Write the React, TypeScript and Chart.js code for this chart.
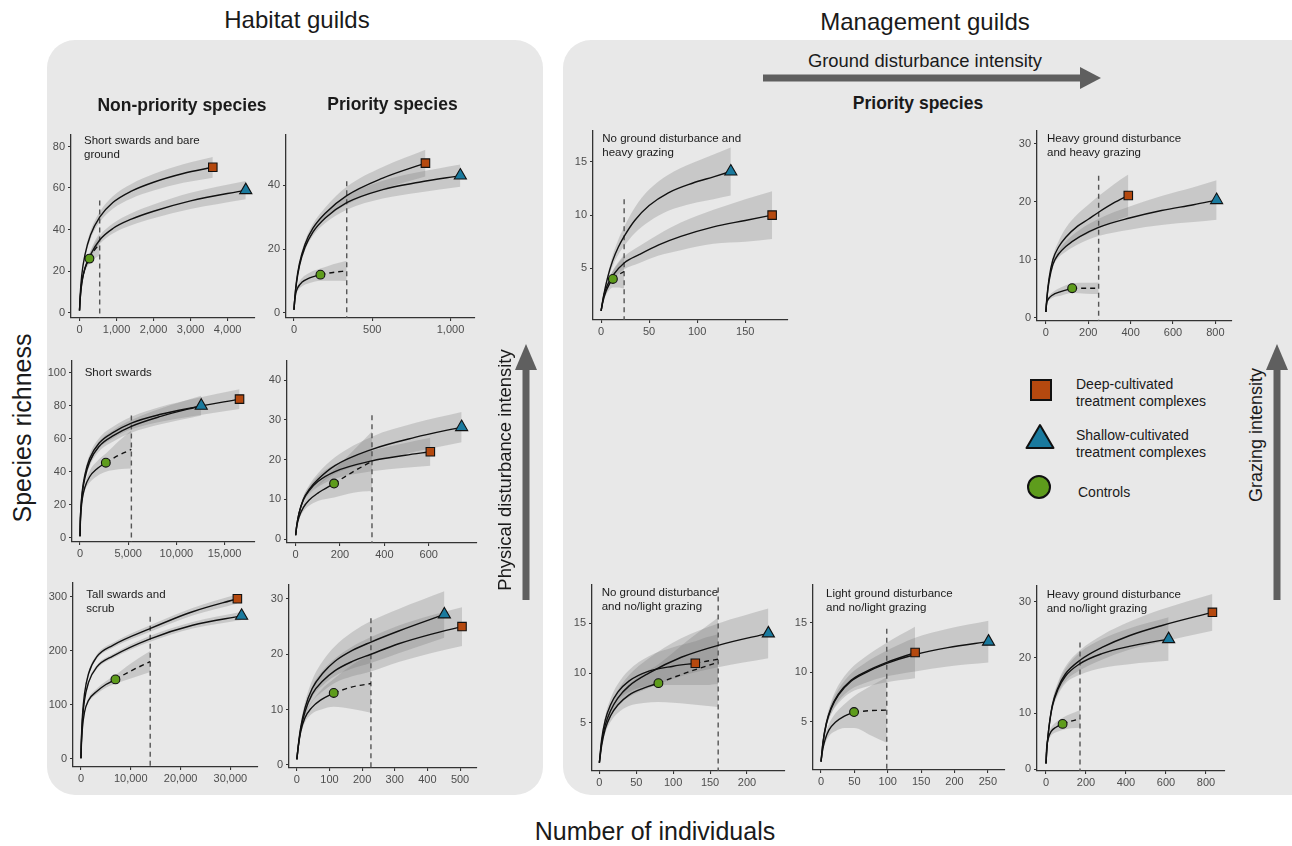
import React, { useEffect, useRef } from 'react';
import { Chart, registerables } from 'chart.js';
Chart.register(...registerables);

type Row = number[]; // [individuals, richness, half-width of 95% band]

// ---------- Habitat guilds: Short swards and bare ground ----------
const a1Deep: Row[] = [[0,1,0],[20,9,0.5],[60,18,1],[150,28,1.5],[300,37.5,2],[545,46,2.5],[900,53,3],[1400,58.5,3.5],[2000,62.8,4],[2800,67,4.5],[3600,70,5]];
const a1Shallow: Row[] = [[0,1,0],[20,7,0.4],[60,14,0.8],[150,21.5,1.2],[300,28,1.6],[545,35,2],[900,40.5,2.4],[1400,45,2.9],[2000,48.8,3.3],[3000,53.8,3.9],[4490,59,4.4]];
const a1Ctrl: Row[] = [[0,1,0],[15,6,0.4],[40,11.5,0.8],[80,16.5,1.2],[150,21.5,1.8],[268,26,2.5]];
const a1CtrlExt: Row[] = [[268,26,2.5],[400,30,4],[545,33,5.5]];
const a2Deep: Row[] = [[0,1,0],[5,4.5,0.3],[15,9.5,0.5],[35,15.5,0.8],[70,21.5,1],[120,26.5,1.3],[200,31.3,1.8],[337,36.8,2.8],[567,42.3,3.5],[840,47,4.2]];
const a2Shallow: Row[] = [[0,1,0],[5,4.3,0.3],[15,9,0.5],[35,14.8,0.7],[70,20.5,0.9],[120,25.3,1.2],[200,29.8,1.6],[337,34.6,2.2],[567,38.7,2.8],[800,41,3.2],[1063,43.1,3.5]];
const a2Ctrl: Row[] = [[0,1,0],[5,4,0.4],[12,6.2,0.7],[25,8,1],[50,9.6,1.3],[100,11,1.6],[169,12,1.9]];
const a2CtrlExt: Row[] = [[169,12,1.9],[250,12.7,2.6],[337,13.2,3.2]];

// ---------- Short swards ----------
const b1Deep: Row[] = [[0,1,0],[30,10,0.5],[100,19,1],[250,29,1.5],[500,38,2],[1000,48,2.5],[2000,57.5,3],[3500,64,3.5],[5330,69.5,3.8],[8370,74.8,4.5],[11680,78.8,5.2],[16550,84,6]];
const b1Shallow: Row[] = [[0,1,0],[30,9.5,0.5],[100,18,1],[250,27.5,1.5],[500,36,2],[1000,46,2.5],[2000,55.5,3],[3500,62,3.5],[5330,67.5,3.8],[8370,73.5,4.8],[12580,80,6]];
const b1Ctrl: Row[] = [[0,1,0],[30,8,0.5],[100,16,1],[250,24,1.5],[500,30.5,2],[1000,37,3.5],[1800,42,4.5],[2680,45.5,5.5]];
const b1CtrlExt: Row[] = [[2680,45.5,5.5],[4000,50,8.5],[5330,53.5,11.5]];
const b2Shallow: Row[] = [[0,1,0],[5,3.5,0.3],[15,6.5,0.5],[35,10,0.8],[62,12.6,1.1],[100,15,1.5],[177,18.5,2.1],[344,22.6,3.2],[537,25.6,3.6],[748,28.2,3.8]];
const b2Deep: Row[] = [[0,1,0],[5,3.5,0.3],[15,6.5,0.5],[35,10,0.8],[62,12.3,1],[100,14.5,1.4],[177,17,1.8],[344,19.7,2.6],[494,21.1,3.1],[607,22,3.5]];
const b2Ctrl: Row[] = [[0,1,0],[5,3.2,0.3],[15,5.5,0.6],[35,8,1],[60,9.8,1.4],[100,11.6,2],[173,14,3.5]];
const b2CtrlExt: Row[] = [[173,14,3.5],[260,17,5.3],[344,19.6,7.5]];

// ---------- Tall swards and scrub ----------
const c1Deep: Row[] = [[0,1,0],[50,25,0.8],[100,40,1],[300,80,2],[700,120,3],[1500,157,3.5],[3200,189,4],[6400,210,4.5],[13900,241,6],[22400,272,7],[31400,296,8.5]];
const c1Shallow: Row[] = [[0,1,0],[50,22,1],[100,36,1.5],[300,72,2.5],[700,108,3],[1500,141,3.5],[3200,170,3.8],[6400,190,4],[13900,222,5.5],[22400,247,6],[32250,264.5,7.5]];
const c1Ctrl: Row[] = [[0,1,0],[50,18,1],[100,30,1.5],[300,58,2.5],[700,86,3],[1500,108,4],[3200,125,5],[5000,137.5,6],[6920,147,8]];
const c1CtrlExt: Row[] = [[6920,147,8],[10000,162.5,14],[13900,180,19.5]];
const c2Shallow: Row[] = [[0,1,0],[5,3.8,0.4],[12,6.8,0.7],[25,10.3,1],[47,13.8,1.5],[80,16.6,2.2],[116,18.7,2.7],[170,20.7,3.3],[227,22.2,3.8],[312,24.2,4],[452,27.2,4.2]];
const c2Deep: Row[] = [[0,1,0],[5,3.6,0.4],[12,6.4,0.6],[25,9.6,0.9],[47,12.8,1.4],[80,15.2,1.9],[116,17,2.2],[170,18.7,2.7],[227,20,3.1],[312,21.9,3.3],[410,23.6,3.4],[506,25,3.5]];
const c2Ctrl: Row[] = [[0,1,0],[5,3.5,0.3],[12,6,0.5],[25,8.5,0.8],[45,10.3,1.1],[75,11.8,1.8],[113,13,2.5]];
const c2CtrlExt: Row[] = [[113,13,2.5],[170,14.1,4],[227,14.7,5.3]];

// ---------- Management guilds ----------
const d1Shallow: Row[] = [[0,1,0],[3,2.6,0.2],[7,4.2,0.3],[12,5.7,0.5],[18,7,0.7],[24,8,0.9],[35,9.5,1.2],[50,10.9,1.5],[70,12.1,1.7],[95,13,1.9],[117,13.6,2.1],[135,14.1,2.25]];
const d1Deep: Row[] = [[0,1,0],[3,2.5,0.15],[7,3.5,0.3],[12,4.3,0.4],[24,5.5,0.6],[40,6.3,0.8],[60,7.2,1],[83,8,1.3],[117,8.9,1.6],[150,9.5,2],[178,10,2.25]];
const d1Ctrl: Row[] = [[0,1,0],[2,1.9,0.1],[5,2.8,0.3],[8,3.4,0.5],[12.3,4,0.8]];
const d1CtrlExt: Row[] = [[12.3,4,0.8],[18,4.4,1.2],[24,4.7,1.6]];
const d2Deep: Row[] = [[0,1,0],[5,3.6,0.2],[15,6.8,0.4],[33,10,0.6],[60,12.2,1],[94,13.9,1.6],[150,15.8,2.1],[200,17,2.5],[249,18.2,2.8],[320,19.8,3.2],[389,21.1,3.6]];
const d2Shallow: Row[] = [[0,1,0],[5,3.4,0.2],[15,6.3,0.3],[33,9.2,0.4],[60,11,0.6],[94,12.3,0.9],[160,14,1.2],[249,15.6,1.5],[395,17.2,2],[546,18.5,2.5],[697,19.5,3],[806,20.3,3.4]];
const d2Ctrl: Row[] = [[0,1,0],[3,2.4,0.2],[8,3,0.3],[20,3.6,0.4],[40,4.1,0.5],[70,4.5,0.7],[124,5.1,0.85]];
const d2CtrlExt: Row[] = [[124,5.1,0.85],[190,5.1,0.95],[249,5.1,1]];
const e1Shallow: Row[] = [[0,1,0],[3,3,0.2],[8,4.8,0.4],[15,6.2,0.6],[25,7.5,0.8],[40,8.7,1.1],[67,10,1.5],[111,11.6,1.9],[161,12.8,2.2],[229,14,2.5]];
const e1Deep: Row[] = [[0,1,0],[3,3.3,0.2],[8,5.3,0.4],[15,6.8,0.6],[25,8.1,0.8],[40,9.2,1.1],[67,10.2,1.5],[100,10.7,1.9],[130,11,2.2]];
const e1DeepExt: Row[] = [[130,11,2.2],[145,11.2,2.4],[161,11.4,2.5]];
const e1Ctrl: Row[] = [[0,1,0],[3,2.7,0.2],[8,4.4,0.4],[15,5.7,0.6],[25,6.8,0.8],[40,7.8,1.1],[60,8.5,1.5],[80,9,1.9]];
const e1CtrlExt: Row[] = [[80,9,1.9],[120,10.1,3.2],[161,11.1,4.5]];
const e2Deep: Row[] = [[0,1,0],[3,3,0.2],[8,4.9,0.4],[15,6.4,0.6],[26,7.8,0.9],[45,9.2,1.2],[65,10,1.5],[98.5,11,2],[141,12,2.6]];
const e2Shallow: Row[] = [[0,1,0],[3,2.9,0.2],[8,4.8,0.3],[15,6.3,0.5],[26,7.7,0.6],[45,9.1,0.8],[65,9.9,1],[98.5,10.9,1.3],[141,11.8,1.7],[190,12.5,1.9],[251,13.1,2.1]];
const e2Ctrl: Row[] = [[0,1,0],[2,2,0.2],[6,3.2,0.4],[12,4.2,0.6],[22,5,0.9],[35,5.6,1.2],[49.5,6,1.6]];
const e2CtrlExt: Row[] = [[49.5,6,1.6],[75,6.15,2.5],[98.5,6.2,3.3]];
const e3Deep: Row[] = [[0,1,0],[5,4,0.2],[15,7.6,0.4],[32,11.5,0.7],[60,14.6,1],[96,17,1.3],[170,19.5,1.8],[280,21.8,2.2],[416,23.9,2.5],[576,25.7,2.9],[832,28.1,3.3]];
const e3Shallow: Row[] = [[0,1,0],[5,4,0.2],[15,7.5,0.4],[32,11.3,0.7],[60,14.3,1],[96,16.6,1.3],[170,18.9,2],[280,20.7,2.6],[416,22,3.2],[613,23.3,3.9]];
const e3Ctrl: Row[] = [[0,1,0],[2,3,0.2],[6,4.6,0.4],[12,5.6,0.5],[25,6.7,0.7],[50,7.5,0.9],[83,8.1,1.1]];
const e3CtrlExt: Row[] = [[83,8.1,1.1],[125,8.6,1.3],[170,9,1.6]];

// reference lines [x, top]
const a1V = [545, 54]; const a2V = [337, 41.3];
const b1V = [5330, 74]; const b2V = [344, 31.2];
const c1V = [13900, 263]; const c2V = [227, 26.5];
const d1V = [24, 11.5]; const d2V = [249, 24.5];
const e1V = [161, 18.6]; const e2V = [98.5, 14.4]; const e3V = [170, 22.7];

// tick values
const xt4500 = [0, 1000, 2000, 3000, 4000];
const xt1000 = [0, 500, 1000];
const xt17000 = [0, 5000, 10000, 15000];
const xt700 = [0, 200, 400, 600];
const xt30000 = [0, 10000, 20000, 30000];
const xt500 = [0, 100, 200, 300, 400, 500];
const xt150 = [0, 50, 100, 150];
const xt800 = [0, 200, 400, 600, 800];
const xt200 = [0, 50, 100, 150, 200];
const xt250 = [0, 50, 100, 150, 200, 250];
const yt80 = [0, 20, 40, 60, 80];
const yt40b = [0, 20, 40];
const yt100 = [0, 20, 40, 60, 80, 100];
const yt40 = [0, 10, 20, 30, 40];
const yt300 = [0, 100, 200, 300];
const yt30 = [0, 10, 20, 30];
const yt15 = [5, 10, 15];

const FONT = '"Liberation Sans", Arial, Helvetica, sans-serif';
const RIB = 'rgba(120,120,120,0.28)';
const BG = '#e8e8e8';
const MCOL: Record<string, string> = { deep: '#b5490f', shallow: '#1a7a9e', ctrl: '#5e9c1c' };
const MSTYLE: Record<string, string> = { deep: 'rect', shallow: 'triangle', ctrl: 'circle' };
const MRAD: Record<string, number> = { deep: 6, shallow: 7, ctrl: 4.4 };
const WY = 30;
const HX = 22;

interface Curve { main: Row[]; ext?: Row[]; kind: string }
interface PanelCfg {
  curves: Curve[]; v: number[]; xt: number[]; yt: number[];
  xr: number[]; yr: number[]; box: number[]; // [axisX, top, axisY, right]
}

const panels: PanelCfg[] = [
  { curves: [{ main: a1Deep, kind: 'deep' }, { main: a1Shallow, kind: 'shallow' }, { main: a1Ctrl, ext: a1CtrlExt, kind: 'ctrl' }], v: a1V, xt: xt4500, yt: yt80, xr: [-230, 4530], yr: [-2.6, 85.5], box: [71, 127, 318, 255] },
  { curves: [{ main: a2Deep, kind: 'deep' }, { main: a2Shallow, kind: 'shallow' }, { main: a2Ctrl, ext: a2CtrlExt, kind: 'ctrl' }], v: a2V, xt: xt1000, yt: yt40b, xr: [-51, 1107], yr: [-1.6, 55.8], box: [285.7, 126.7, 318, 475] },
  { curves: [{ main: b1Deep, kind: 'deep' }, { main: b1Shallow, kind: 'shallow' }, { main: b1Ctrl, ext: b1CtrlExt, kind: 'ctrl' }], v: b1V, xt: xt17000, yt: yt100, xr: [-830, 17320], yr: [-2.5, 107], box: [72, 353, 541.7, 254.7] },
  { curves: [{ main: b2Deep, kind: 'deep' }, { main: b2Shallow, kind: 'shallow' }, { main: b2Ctrl, ext: b2CtrlExt, kind: 'ctrl' }], v: b2V, xt: xt700, yt: yt40, xr: [-39, 781], yr: [-0.96, 44.8], box: [286.7, 352.7, 543.3, 476.7] },
  { curves: [{ main: c1Deep, kind: 'deep' }, { main: c1Shallow, kind: 'shallow' }, { main: c1Ctrl, ext: c1CtrlExt, kind: 'ctrl' }], v: c1V, xt: xt30000, yt: yt300, xr: [-1600, 34040], yr: [-15, 325], box: [73, 575, 766.7, 258.3] },
  { curves: [{ main: c2Deep, kind: 'deep' }, { main: c2Shallow, kind: 'shallow' }, { main: c2Ctrl, ext: c2CtrlExt, kind: 'ctrl' }], v: c2V, xt: xt500, yt: yt30, xr: [-24, 529], yr: [-0.57, 32.5], box: [289, 576.7, 768.3, 477.3] },
  { curves: [{ main: d1Deep, kind: 'deep' }, { main: d1Shallow, kind: 'shallow' }, { main: d1Ctrl, ext: d1CtrlExt, kind: 'ctrl' }], v: d1V, xt: xt150, yt: yt15, xr: [-8.4, 186.7], yr: [0.14, 17.9], box: [593.3, 123.3, 320, 788.3] },
  { curves: [{ main: d2Deep, kind: 'deep' }, { main: d2Shallow, kind: 'shallow' }, { main: d2Ctrl, ext: d2CtrlExt, kind: 'ctrl' }], v: d2V, xt: xt800, yt: yt30, xr: [-42, 842], yr: [-0.56, 32.2], box: [1036.7, 123.3, 320.7, 1232] },
  { curves: [{ main: e1Deep, ext: e1DeepExt, kind: 'deep' }, { main: e1Shallow, kind: 'shallow' }, { main: e1Ctrl, ext: e1CtrlExt, kind: 'ctrl' }], v: e1V, xt: xt200, yt: yt15, xr: [-10, 241], yr: [0.17, 18.85], box: [592.3, 577.3, 771, 785] },
  { curves: [{ main: e2Deep, kind: 'deep' }, { main: e2Shallow, kind: 'shallow' }, { main: e2Ctrl, ext: e2CtrlExt, kind: 'ctrl' }], v: e2V, xt: xt250, yt: yt15, xr: [-12, 264], yr: [0.16, 18.8], box: [813.3, 577.3, 770, 1005] },
  { curves: [{ main: e3Deep, kind: 'deep' }, { main: e3Shallow, kind: 'shallow' }, { main: e3Ctrl, ext: e3CtrlExt, kind: 'ctrl' }], v: e3V, xt: xt800, yt: yt30, xr: [-45, 856], yr: [-0.34, 32.8], box: [1037.3, 578.3, 770.7, 1225] },
];

const mid = (rows: Row[]) => rows.map(r => ({ x: r[0], y: r[1] }));
const low = (rows: Row[]) => rows.map(r => ({ x: r[0], y: r[1] - r[2] }));
const high = (rows: Row[]) => rows.map(r => ({ x: r[0], y: r[1] + r[2] }));

function buildConfig(p: PanelCfg): any {
  const ds: any[] = [];
  const NONE = 'rgba(0,0,0,0)';
  p.curves.forEach(cv => {
    const all = cv.ext ? cv.main.concat(cv.ext.slice(1)) : cv.main;
    ds.push({ data: low(all), borderWidth: 0, borderColor: NONE, pointRadius: 0, fill: false, order: 5, cubicInterpolationMode: 'monotone' });
    ds.push({ data: high(all), borderWidth: 0, borderColor: NONE, pointRadius: 0, fill: '-1', backgroundColor: RIB, order: 5, cubicInterpolationMode: 'monotone' });
  });
  ds.push({ data: [{ x: p.v[0], y: p.v[1] }, { x: p.v[0], y: p.yr[0] }], borderColor: '#555', borderWidth: 1.4, borderDash: [5, 4], pointRadius: 0, fill: false, order: 3 });
  p.curves.forEach(cv => {
    ds.push({ data: mid(cv.main), borderColor: '#111', borderWidth: 1.4, pointRadius: 0, fill: false, order: 2, cubicInterpolationMode: 'monotone' });
    if (cv.ext) ds.push({ data: mid(cv.ext), borderColor: '#111', borderWidth: 1.4, borderDash: [5, 4], pointRadius: 0, fill: false, order: 2, cubicInterpolationMode: 'monotone' });
  });
  p.curves.forEach(cv => {
    const last = cv.main[cv.main.length - 1];
    ds.push({ data: [{ x: last[0], y: last[1] }], showLine: false, pointStyle: MSTYLE[cv.kind], pointRadius: MRAD[cv.kind], pointBackgroundColor: MCOL[cv.kind], pointBorderColor: '#111', pointBorderWidth: 1.1, order: 0, clip: false });
  });
  const tickFont = { family: FONT, size: 11 };
  const common = {
    grid: { drawOnChartArea: false, drawTicks: true, tickLength: 3, color: '#333', lineWidth: 1.1 },
    border: { display: true, color: '#333', width: 1.3 },
  };
  return {
    type: 'line',
    data: { datasets: ds },
    options: {
      animation: false, responsive: false, maintainAspectRatio: false, events: [],
      layout: { padding: 0 },
      plugins: { legend: { display: false }, tooltip: { enabled: false }, filler: { drawTime: 'beforeDatasetsDraw', propagate: false } },
      scales: {
        x: {
          type: 'linear', min: p.xr[0], max: p.xr[1], ...common,
          afterBuildTicks: (a: any) => { a.ticks = p.xt.map(v => ({ value: v })); },
          afterFit: (s: any) => { s.height = HX; s.paddingLeft = 0; s.paddingRight = 0; },
          ticks: { callback: (v: number) => v.toLocaleString('en-US'), color: '#4d4d4d', font: tickFont, padding: 2, autoSkip: false, maxRotation: 0, minRotation: 0 },
        },
        y: {
          type: 'linear', min: p.yr[0], max: p.yr[1], ...common,
          afterBuildTicks: (a: any) => { a.ticks = p.yt.map(v => ({ value: v })); },
          afterFit: (s: any) => { s.width = WY; s.paddingTop = 0; s.paddingBottom = 0; },
          ticks: { callback: (v: number) => v.toLocaleString('en-US'), color: '#4d4d4d', font: tickFont, padding: 3, autoSkip: false },
        },
      },
    },
  };
}

// canvas extends 8px right of the axis end; widen x max to keep the scale
panels.forEach(p => {
  const [ax, , , right] = p.box;
  const left = Math.round(ax - WY);
  const w = Math.round(right + 8) - left;
  const pxPerUnit = (right - ax) / (p.xr[1] - p.xr[0]);
  const extra = (left + w - right) / pxPerUnit;
  p.xr = [p.xr[0], p.xr[1] + extra];
});

function Panel({ p }: { p: PanelCfg }) {
  const ref = useRef<HTMLCanvasElement>(null);
  useEffect(() => {
    const chart = new Chart(ref.current as HTMLCanvasElement, buildConfig(p));
    return () => chart.destroy();
  }, [p]);
  const [ax, top, ay, right] = p.box;
  const left = Math.round(ax - WY);
  const t = Math.round(top);
  const w = Math.round(right + 8) - left;
  const h = Math.round(ay + HX) - t;
  return <canvas ref={ref} width={w} height={h} style={{ position: 'absolute', left, top: t, width: w, height: h }} />;
}

const labels: { x: number; y: number; lines: string[] }[] = [
  { x: 84, y: 140, lines: ['Short swards and bare', 'ground'] },
  { x: 84.7, y: 371.7, lines: ['Short swards'] },
  { x: 86.3, y: 594, lines: ['Tall swards and', 'scrub'] },
  { x: 602.3, y: 138, lines: ['No ground disturbance and', 'heavy grazing'] },
  { x: 1047, y: 138, lines: ['Heavy ground disturbance', 'and heavy grazing'] },
  { x: 601.7, y: 591.7, lines: ['No ground disturbance', 'and no/light grazing'] },
  { x: 826, y: 592.7, lines: ['Light ground disturbance', 'and no/light grazing'] },
  { x: 1046.7, y: 594, lines: ['Heavy ground disturbance', 'and no/light grazing'] },
];

const C = (x: number, y: number, extra: React.CSSProperties = {}): React.CSSProperties => ({
  position: 'absolute', left: x, top: y, transform: 'translate(-50%,-50%)', whiteSpace: 'nowrap', fontFamily: FONT, color: '#1a1a1a', ...extra,
});

export default function App() {
  return (
    <div style={{ position: 'absolute', left: 0, top: 0, width: 1292, height: 846, overflow: 'hidden', background: '#fff', fontFamily: FONT }}>
      <div style={{ position: 'absolute', left: 47, top: 40, width: 496, height: 755, borderRadius: 28, background: BG }} />
      <div style={{ position: 'absolute', left: 563, top: 40, width: 780, height: 755, borderRadius: 28, background: BG }} />
      <svg width={1292} height={846} style={{ position: 'absolute', left: 0, top: 0 }}>
        <rect x={763} y={74.5} width={319} height={7} fill="#5f5f5f" />
        <polygon points="1080,67 1101,78 1080,89" fill="#5f5f5f" />
        <rect x={522.5} y={368} width={7} height={232} fill="#5f5f5f" />
        <polygon points="515,370 526,344 537,370" fill="#5f5f5f" />
        <rect x={1273.5} y={368} width={7} height={232} fill="#5f5f5f" />
        <polygon points="1266,370 1277,344 1288,370" fill="#5f5f5f" />
        <rect x={1031} y={380} width={20} height={20} fill={MCOL.deep} stroke="#111" strokeWidth={2} />
        <polygon points="1040,425 1053.5,448 1026.5,448" fill={MCOL.shallow} stroke="#111" strokeWidth={2} strokeLinejoin="round" />
        <circle cx={1039} cy={487} r={11} fill={MCOL.ctrl} stroke="#111" strokeWidth={2} />
      </svg>
      {panels.map((p, i) => <Panel key={i} p={p} />)}
      {labels.map((l, i) => (
        <div key={i} style={{ position: 'absolute', left: l.x, top: l.y - 7, fontFamily: FONT, fontSize: 11.5, lineHeight: '14px', color: '#1a1a1a', whiteSpace: 'nowrap' }}>
          {l.lines.map((s, j) => <div key={j}>{s}</div>)}
        </div>
      ))}
      <div style={C(297, 20, { fontSize: 24 })}>Habitat guilds</div>
      <div style={C(925, 22, { fontSize: 24 })}>Management guilds</div>
      <div style={C(182, 105, { fontSize: 17.5, fontWeight: 'bold' })}>Non-priority species</div>
      <div style={C(392.5, 104, { fontSize: 17.5, fontWeight: 'bold' })}>Priority species</div>
      <div style={C(918, 103, { fontSize: 17.5, fontWeight: 'bold' })}>Priority species</div>
      <div style={C(925, 61, { fontSize: 18.4 })}>Ground disturbance intensity</div>
      <div style={C(505, 470, { fontSize: 18.4, transform: 'translate(-50%,-50%) rotate(-90deg)' })}>Physical disturbance intensity</div>
      <div style={C(1256, 435, { fontSize: 18, transform: 'translate(-50%,-50%) rotate(-90deg)' })}>Grazing intensity</div>
      <div style={C(22, 428, { fontSize: 25, transform: 'translate(-50%,-50%) rotate(-90deg)' })}>Species richness</div>
      <div style={C(655, 831, { fontSize: 25 })}>Number of individuals</div>
      <div style={{ position: 'absolute', left: 1076, top: 376, fontSize: 14, lineHeight: '17px', color: '#1a1a1a', whiteSpace: 'nowrap' }}>Deep-cultivated<br />treatment complexes</div>
      <div style={{ position: 'absolute', left: 1076, top: 427, fontSize: 14, lineHeight: '17px', color: '#1a1a1a', whiteSpace: 'nowrap' }}>Shallow-cultivated<br />treatment complexes</div>
      <div style={{ position: 'absolute', left: 1078, top: 484, fontSize: 14, lineHeight: '17px', color: '#1a1a1a', whiteSpace: 'nowrap' }}>Controls</div>
    </div>
  );
}
